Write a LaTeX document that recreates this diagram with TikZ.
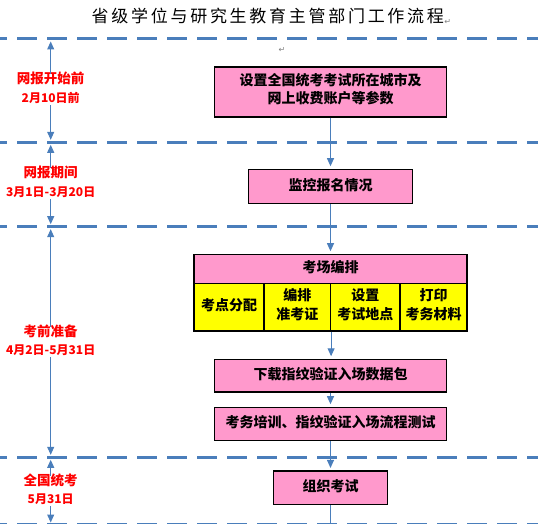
\documentclass[tikz,border=0pt]{standalone}
\usepackage{fontspec}
\setmainfont{Noto Sans CJK SC}
\newfontfamily\titlefont[LetterSpace=16]{Noto Sans CJK SC}
\newfontfamily\symfont{DejaVu Sans}
\usetikzlibrary{arrows.meta}
\definecolor{lineblue}{HTML}{4A7EBB}
\definecolor{boxpink}{HTML}{FF99CC}
\definecolor{cellyellow}{HTML}{FFFF00}
\definecolor{markgray}{HTML}{808080}
\begin{document}
\begin{tikzpicture}[x=1pt,y=-1pt,
  txt/.style={inner sep=0pt, text height=0.88em, text depth=0.12em},
  boxtxt/.style={txt, font=\bfseries\fontsize{14}{17}\selectfont, text=black},
  pinkbox/.style={draw=black, line width=1.2pt, fill=boxpink, inner sep=0pt, boxtxt},
  cellbox/.style={draw=black, line width=1.2pt, fill=cellyellow, inner sep=0pt, boxtxt},
  phasebig/.style={txt, inner sep=1pt, text=red, font=\bfseries\fontsize{13.5}{16}\selectfont},
  phasesmall/.style={txt, inner sep=1pt, text=red, font=\bfseries\fontsize{12}{14}\selectfont},
  sepline/.style={draw=lineblue, line width=3pt, dash pattern=on 20pt off 10pt},
  tip/.tip={Triangle[width=7pt,length=8pt]},
  flow/.style={draw=lineblue, line width=1pt, -tip, shorten >=2.5pt},
  flowplain/.style={draw=lineblue, line width=1pt},
  upflow/.style={draw=lineblue, line width=1pt, tip-, shorten <=2.5pt},
  downflow/.style={draw=lineblue, line width=1pt, -tip, shorten >=2.5pt},
  pmark/.style={inner sep=0pt, text=markgray, font=\symfont\fontsize{8}{9}\selectfont}
]
\useasboundingbox (0,0) rectangle (538,524);

% title
\node[txt, anchor=west, font=\titlefont\fontsize{17}{20}\selectfont] (title) at (91.5,18.5) {省级学位与研究生教育主管部门工作流程};
\node[pmark, anchor=west] (titlemark) at ([yshift=-3.5pt]title.east) {↵};
\node[pmark] (mark2) at (282,50) {↵};

% separator lines
\coordinate (s1w) at (-12.7,39);    \coordinate (s1e) at (560,39);
\coordinate (s2w) at (-12.7,142.3); \coordinate (s2e) at (560,142.3);
\coordinate (s3w) at (-12.7,226.7); \coordinate (s3e) at (560,226.7);
\coordinate (s4w) at (-12.7,457.3); \coordinate (s4e) at (560,457.3);
\coordinate (s5w) at (-12.7,524);   \coordinate (s5e) at (560,524);

% timeline points
\coordinate (T0) at (50.7,39);
\coordinate (T1) at (50.7,142.3);
\coordinate (T2) at (50.7,226.7);
\coordinate (T3) at (50.7,457.3);
\coordinate (T4) at (50.7,525);

% phase labels
\node[phasebig]   (p1a) at (50.7,80)  {网报开始前};
\node[phasesmall] (p1b) at (50.7,99)  {2月10日前};
\node[phasebig]   (p2a) at (50.7,174) {网报期间};
\node[phasesmall] (p2b) at (50.7,193) {3月1日-3月20日};
\node[phasebig]   (p3a) at (50.7,333) {考前准备};
\node[phasesmall] (p3b) at (50.7,351) {4月2日-5月31日};
\node[phasebig]   (p4a) at (50.7,482) {全国统考};
\node[phasesmall] (p4b) at (50.7,500) {5月31日};

\draw[upflow]   (T0) -- (p1a.north);
\draw[downflow] (p1b.south) -- (T1);
\draw[upflow]   (T1) -- (p2a.north);
\draw[downflow] (p2b.south) -- (T2);
\draw[upflow]   (T2) -- (p3a.north);
\draw[downflow] (p3b.south) -- (T3);
\draw[upflow]   (T3) -- (p4a.north);
\draw[downflow] (p4b.south) -- (T4);

% flow boxes
\node[pinkbox, minimum width=232pt, minimum height=50pt] (b1) at (330.5,92) {};
\node[boxtxt] (b1l1) at (330.5,81.7) {设置全国统考考试所在城市及};
\node[boxtxt] (b1l2) at (330.5,100.2) {网上收费账户等参数};

\node[pinkbox, minimum width=164.7pt, minimum height=34pt] (b2) at (330.5,186.3) {监控报名情况};

\node[pinkbox, minimum width=273pt, minimum height=29pt] (hdr) at (330.5,268.8) {考场编排};
\node[cellbox, minimum width=70pt, minimum height=47.7pt] (c1) at (229,307.15) {考点分配};
\node[cellbox, minimum width=66.5pt, minimum height=47.7pt] (c2) at (297.25,307.15) {};
\node[cellbox, minimum width=69.5pt, minimum height=47.7pt] (c3) at (365.25,307.15) {};
\node[cellbox, minimum width=67pt, minimum height=47.7pt] (c4) at (433.5,307.15) {};
\node[boxtxt] (c2l1) at (297.25,296.7) {编排};
\node[boxtxt] (c2l2) at (297.25,315.2) {准考证};
\node[boxtxt] (c3l1) at (365.25,296.7) {设置};
\node[boxtxt] (c3l2) at (365.25,315.2) {考试地点};
\node[boxtxt] (c4l1) at (433.5,296.7) {打印};
\node[boxtxt] (c4l2) at (433.5,315.2) {考务材料};

\node[pinkbox, minimum width=232pt, minimum height=32.7pt] (b4) at (330.5,375.7) {下载指纹验证入场数据包};
\node[pinkbox, minimum width=232pt, minimum height=33pt] (b5) at (330.5,423.8) {考务培训、指纹验证入场流程测试};
\node[pinkbox, minimum width=113.7pt, minimum height=33.3pt] (b6) at (330.5,487.7) {组织考试};
\coordinate (bot) at (330.5,530);

% connectors
\draw[flow] (b1.south) -- (b2.north);
\draw[flow] (b2.south) -- (hdr.north);
\draw[flow] (c2.south east) -- (c2.south east |- b4.north);
\draw[flow] (b4.south) -- (b5.north);
\draw[flow] (b5.south) -- (b6.north);
\draw[flowplain] (b6.south) -- (bot);

% separator lines drawn
\draw[sepline] (s1w) -- (s1e);
\draw[sepline] (s2w) -- (s2e);
\draw[sepline] (s3w) -- (s3e);
\draw[sepline] (s4w) -- (s4e);
\draw[sepline] (s5w) -- (s5e);
\end{tikzpicture}
\end{document}
